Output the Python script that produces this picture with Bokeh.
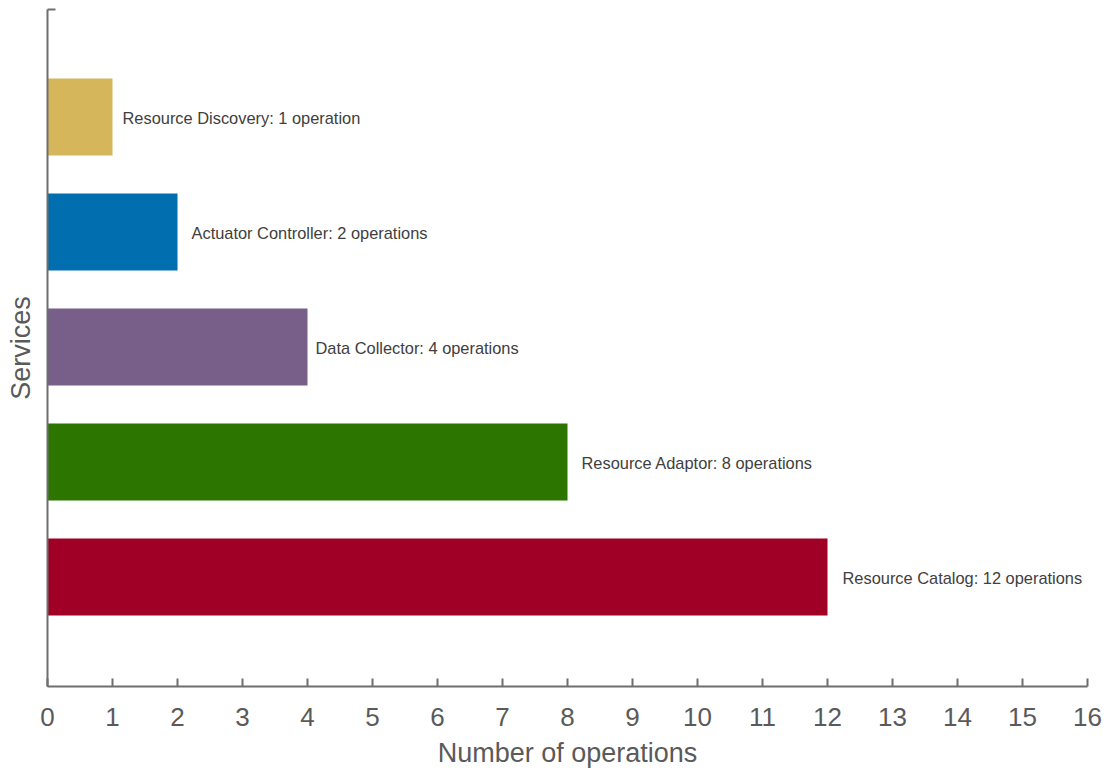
from bokeh.plotting import figure
from bokeh.models import ColumnDataSource, FixedTicker, Range1d
from bokeh.core.properties import value
from bokeh.embed import file_html
from bokeh.resources import INLINE

# Services, bottom to top
services = ["Resource Catalog", "Resource Adaptor", "Data Collector",
            "Actuator Controller", "Resource Discovery"]
operations = [12, 8, 4, 2, 1]
colors = ["#A10026", "#2C7600", "#775F8A", "#006EAF", "#D6B65A"]
label_gap_px = [15, 14, 8, 14, 10]
x_ticks = list(range(0, 17))

positions = list(range(1, len(services) + 1))
labels = [f"{s}: {n} operation" + ("s" if n != 1 else "")
          for s, n in zip(services, operations)]

src = ColumnDataSource(dict(y=positions, right=operations, color=colors,
                            label=labels, gap=label_gap_px))

y_lo, y_hi = 0.048, 5.935

p = figure(width=1113, height=774, output_backend="svg", toolbar_location=None,
           x_range=Range1d(0, 16), y_range=Range1d(y_lo, y_hi),
           min_border_left=47, min_border_right=26, min_border_top=9, min_border_bottom=88)
p.outline_line_color = None
p.grid.visible = False
p.background_fill_color = "white"

p.hbar(y="y", left=0, right="right", height=0.67, fill_color="color",
       line_color=None, source=src)

p.text(x="right", y="y", text="label", source=src, x_offset="gap", y_offset=1,
       text_baseline="middle", text_align="left",
       text_font=value("Liberation Sans"), text_font_size="16.4px",
       text_color="#404040")

axis_color = "#6E6E6E"
label_color = "#5A5A5A"

xa = p.xaxis[0]
xa.ticker = FixedTicker(ticks=x_ticks)
xa.axis_line_color = axis_color
xa.axis_line_width = 2
xa.major_tick_line_color = axis_color
xa.major_tick_line_width = 2
xa.major_tick_in = 8
xa.major_tick_out = 0
xa.minor_tick_line_color = None
xa.major_label_text_font = "Liberation Sans"
xa.major_label_text_font_size = "26px"
xa.major_label_text_color = label_color
xa.major_label_standoff = 21
xa.axis_label = "Number of operations"
xa.axis_label_text_font = "Liberation Sans"
xa.axis_label_text_font_size = "27px"
xa.axis_label_text_font_style = "normal"
xa.axis_label_text_color = label_color
xa.axis_label_standoff = 9

# Left axis: a single inward tick at the top, no tick labels
ya = p.yaxis[0]
ya.ticker = FixedTicker(ticks=[y_hi])
ya.axis_line_color = axis_color
ya.axis_line_width = 2
ya.major_tick_line_color = axis_color
ya.major_tick_line_width = 2
ya.major_tick_in = 8
ya.major_tick_out = 0
ya.minor_tick_line_color = None
ya.major_label_text_font_size = "0px"
ya.major_label_text_alpha = 0
ya.major_label_overrides = {y_hi: " "}
ya.major_label_standoff = 0
ya.axis_label = "Services"
ya.axis_label_text_font = "Liberation Sans"
ya.axis_label_text_font_size = "27px"
ya.axis_label_text_font_style = "normal"
ya.axis_label_text_color = label_color
ya.axis_label_standoff = 12

open("out.html", "w").write(file_html(p, INLINE))
